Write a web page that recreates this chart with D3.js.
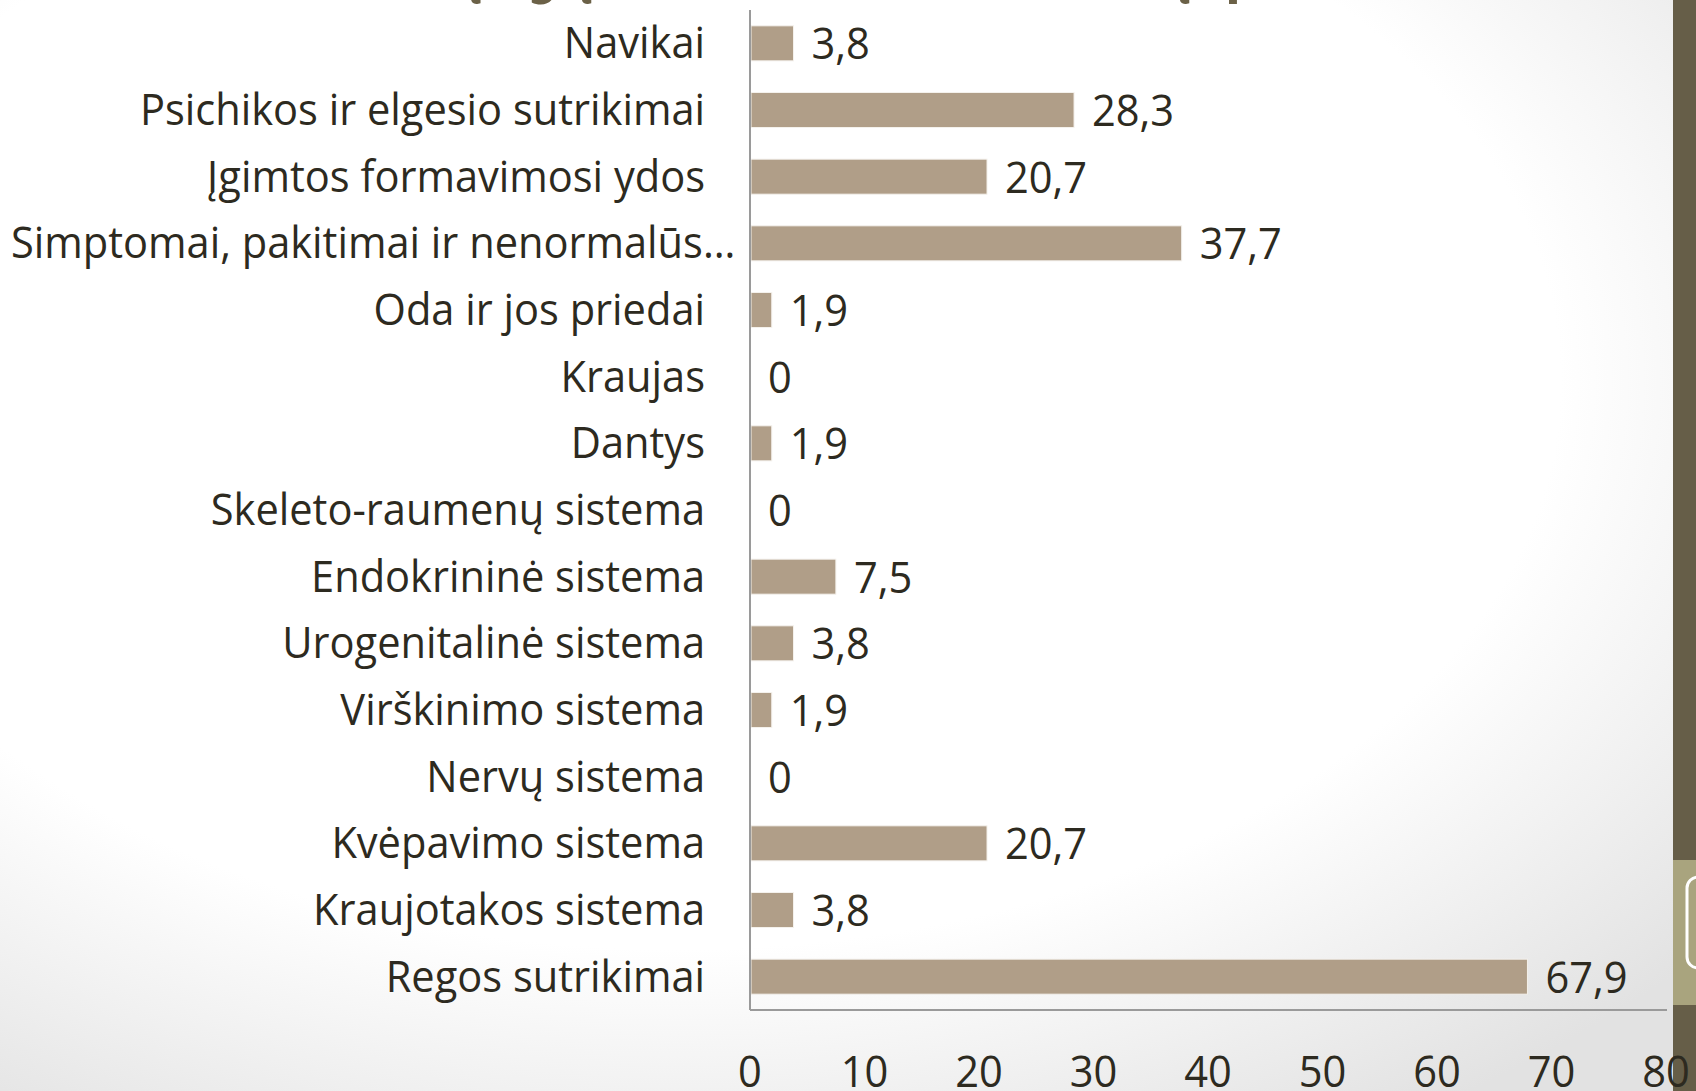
<!DOCTYPE html>
<html>
<head>
<meta charset="utf-8">
<script src="https://cdn.jsdelivr.net/npm/d3@7"></script>
<style>
	html, body { margin: 0; padding: 0; overflow: hidden; }
	svg { display: block; }
</style>
</head>
<body>
<svg id="chart" width="1696" height="1091"></svg>
<script>
// Data, top to bottom as drawn
const categories = [
	"Navikai",
	"Psichikos ir elgesio sutrikimai",
	"Įgimtos formavimosi ydos",
	"Simptomai, pakitimai ir nenormalūs…",
	"Oda ir jos priedai",
	"Kraujas",
	"Dantys",
	"Skeleto-raumenų sistema",
	"Endokrininė sistema",
	"Urogenitalinė sistema",
	"Virškinimo sistema",
	"Nervų sistema",
	"Kvėpavimo sistema",
	"Kraujotakos sistema",
	"Regos sutrikimai",
]
const values = [3.8, 28.3, 20.7, 37.7, 1.9, 0, 1.9, 0, 7.5, 3.8, 1.9, 0, 20.7, 3.8, 67.9]
const xTicks = [0, 10, 20, 30, 40, 50, 60, 70, 80]
const titleText = "Vaikų ligų struktūra mokslo metų (proc.)"

const config = {
	width: 1696,
	height: 1091,
	fontFamily: "'Open Sans', 'Noto Sans', sans-serif",
	fontSize: 44,
	textColour: "#2d2a20",
	barColour: "#b09e88",
	axisColour: "#9a9a9a",
	stripColour: "#665e48",
	stripLight: "#a9a47e",
	titleColour: "#6b6147",
	plot: { left: 750, right: 1666, top: 10, bottom: 1010 },
	labelGap: 45,
	valueGap: 18,
	squeezeTarget: 565, // width of the longest plain label in the reference
}

const svg = d3.select("#chart")

// Background: white over most of the slide, light grey at the right and bottom
const defs = svg.append("defs")
const grad = defs.append("radialGradient")
	.attr("id", "bg")
	.attr("cx", "40%").attr("cy", "35%").attr("r", "80%")
grad.append("stop").attr("offset", "65%").attr("stop-color", "#ffffff")
grad.append("stop").attr("offset", "100%").attr("stop-color", "#e2e2e2")
svg.append("rect")
	.attr("width", config.width)
	.attr("height", config.height)
	.attr("fill", "url(#bg)")

// Right-hand decorative strip of the slide
svg.append("rect")
	.attr("x", 1673).attr("y", 0)
	.attr("width", 23).attr("height", config.height)
	.attr("fill", config.stripColour)
svg.append("rect")
	.attr("x", 1673).attr("y", 860)
	.attr("width", 23).attr("height", 145)
	.attr("fill", config.stripLight)
svg.append("rect")
	.attr("x", 1687).attr("y", 877)
	.attr("width", 30).attr("height", 91)
	.attr("rx", 11)
	.attr("fill", "none")
	.attr("stroke", "#fff")
	.attr("stroke-width", 3)

// Slide title, mostly cut off by the top edge
svg.append("text")
	.attr("class", "title")
	.attr("x", 340)
	.attr("y", -9)
	.attr("textLength", 1035)
	.attr("lengthAdjust", "spacingAndGlyphs")
	.style("font-family", "'DejaVu Sans', sans-serif")
	.style("font-size", "64px")
	.style("font-weight", "bold")
	.attr("fill", config.titleColour)
	.text(titleText)

const x = d3.scaleLinear()
	.domain([xTicks[0], xTicks[xTicks.length - 1]])
	.range([config.plot.left, config.plot.right])

const y = d3.scaleBand()
	.domain(categories)
	.range([config.plot.top, config.plot.bottom])
	.paddingInner(0.475)
	.paddingOuter(0.2375)

const fmt = v => d3.format(".1~f")(v).replace(".", ",")

const g = svg.append("g")

// Bars
g.selectAll("rect.bar")
	.data(categories)
	.join("rect")
	.attr("class", "bar")
	.attr("x", x(0) + 1)
	.attr("y", d => y(d))
	.attr("width", (d, i) => Math.max(0, x(values[i]) - x(0) - 1))
	.attr("height", y.bandwidth())
	.attr("fill", config.barColour)
	.attr("stroke", "#f4f1ec")
	.attr("stroke-width", (d, i) => values[i] > 0 ? 1 : 0)

// Axis lines
g.append("line")
	.attr("x1", x(0)).attr("x2", x(0))
	.attr("y1", config.plot.top).attr("y2", config.plot.bottom)
	.attr("stroke", config.axisColour)
	.attr("stroke-width", 2)
g.append("line")
	.attr("x1", x(0)).attr("x2", config.plot.right + 1)
	.attr("y1", config.plot.bottom).attr("y2", config.plot.bottom)
	.attr("stroke", config.axisColour)
	.attr("stroke-width", 2)

// Category labels
const labels = g.selectAll("text.cat")
	.data(categories)
	.join("text")
	.attr("class", "cat")
	.attr("x", d => d.endsWith("…") ? 11 : x(0) - config.labelGap)
	.attr("y", d => y(d) + y.bandwidth() / 2 + 15)
	.attr("text-anchor", d => d.endsWith("…") ? "start" : "end")
	.text(d => d)

// Value labels
g.selectAll("text.val")
	.data(categories)
	.join("text")
	.attr("class", "val")
	.attr("x", (d, i) => x(values[i]) + config.valueGap)
	.attr("y", d => y(d) + y.bandwidth() / 2 + 16)
	.text((d, i) => fmt(values[i]))

// X tick labels (the slide crops them at the bottom edge)
g.selectAll("text.tick")
	.data(xTicks)
	.join("text")
	.attr("class", "tick")
	.attr("x", d => x(d))
	.attr("y", 1087)
	.attr("text-anchor", "middle")
	.text(d => d)

g.selectAll("text.cat, text.val, text.tick")
	.style("font-family", config.fontFamily)
	.style("font-size", `${config.fontSize}px`)
	.attr("fill", config.textColour)

// Squeeze glyphs horizontally to mimic the narrow original typeface
const refNode = labels.filter(d => d === "Psichikos ir elgesio sutrikimai").node()
const k = config.squeezeTarget / refNode.getComputedTextLength()
g.selectAll("text.cat, text.val, text.tick").each(function() {
	const w = this.getComputedTextLength()
	d3.select(this)
		.attr("textLength", w * k)
		.attr("lengthAdjust", "spacingAndGlyphs")
})
</script>
</body>
</html>
